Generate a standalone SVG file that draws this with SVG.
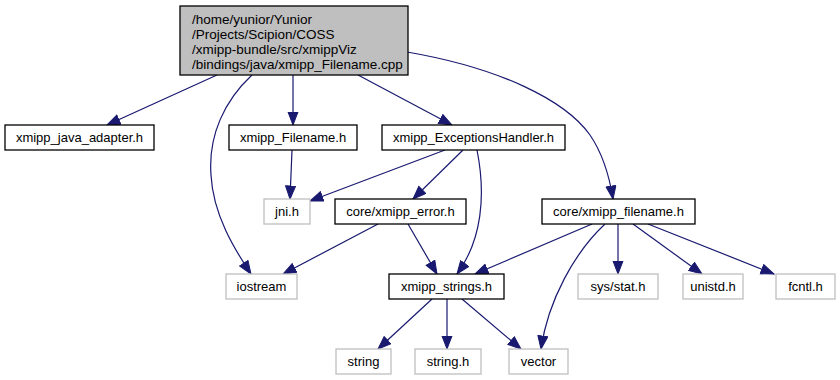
<svg xmlns="http://www.w3.org/2000/svg" width="840" height="380" viewBox="0 0 840 380">
  <style>
    .node rect { fill: #ffffff; stroke: #000000; stroke-width: 1.3; }
    .node.sys rect { stroke: #bfbfbf; }
    .node.root rect { fill: #bfbfbf; }
    .node text { font-family: "Liberation Sans", Arial, Helvetica, sans-serif; font-size: 13px; fill: #000000; }
    .node.root text { font-size: 13.5px; }
    .node text.c { text-anchor: middle; }
    .edges path { fill: none; stroke: #191970; stroke-width: 1.2; marker-end: url(#arrow); }
  </style>
  <defs>
    <marker id="arrow" markerUnits="userSpaceOnUse" markerWidth="15" markerHeight="12" refX="13.5" refY="5.5" orient="auto">
      <path d="M0.5,0.5 L13.5,5.5 L0.5,10.5 z" fill="#191970" stroke="#191970" stroke-width="1"/>
    </marker>
  </defs>

  <!-- include edges -->
  <g class="edges">
    <path d="M217,75 L107,125"/>
    <path d="M252,75 C225,100 208,135 211,175 C213,215 235,250 251,274"/>
    <path d="M293,75 L293,125"/>
    <path d="M358,75 L452,125"/>
    <path d="M407,52 C500,68 565,100 590,135 C605,157 610,180 613,199"/>
    <path d="M292,150 L290,199"/>
    <path d="M445,150 L310,201"/>
    <path d="M463,150 L413,199"/>
    <path d="M477,150 C486,195 482,240 457,274"/>
    <path d="M378,224 L283,274"/>
    <path d="M408,224 L437,274"/>
    <path d="M592,224 L475,274"/>
    <path d="M605,224 C575,252 548,300 541,349"/>
    <path d="M618,224 L618,274"/>
    <path d="M633,224 L702,274"/>
    <path d="M648,224 L774,274"/>
    <path d="M432,299 L378,349"/>
    <path d="M447,299 L447,349"/>
    <path d="M462,299 L521,349"/>
  </g>

  <!-- source file -->
  <g id="node_root" class="node root">
    <rect x="180" y="6" width="228" height="69"/>
    <text x="192" y="24">/home/yunior/Yunior</text>
    <text x="192" y="39">/Projects/Scipion/COSS</text>
    <text x="192" y="54">/xmipp-bundle/src/xmippViz</text>
    <text x="192" y="69">/bindings/java/xmipp_Filename.cpp</text>
  </g>

  <!-- project headers -->
  <g id="node_java_adapter" class="node">
    <rect x="5" y="125" width="149" height="25"/>
    <text class="c" x="79.5" y="141.5">xmipp_java_adapter.h</text>
  </g>
  <g id="node_Filename_h" class="node">
    <rect x="229" y="125" width="128" height="25"/>
    <text class="c" x="293" y="141.5">xmipp_Filename.h</text>
  </g>
  <g id="node_ExceptionsHandler" class="node">
    <rect x="382" y="125" width="183" height="25"/>
    <text class="c" x="473.5" y="141.5">xmipp_ExceptionsHandler.h</text>
  </g>
  <g id="node_xmipp_error" class="node">
    <rect x="335" y="199" width="131" height="25"/>
    <text class="c" x="400.5" y="215.5">core/xmipp_error.h</text>
  </g>
  <g id="node_xmipp_filename" class="node">
    <rect x="542" y="199" width="153" height="25"/>
    <text class="c" x="618.5" y="215.5">core/xmipp_filename.h</text>
  </g>
  <g id="node_xmipp_strings" class="node">
    <rect x="389" y="274" width="115" height="25"/>
    <text class="c" x="446.5" y="290.5">xmipp_strings.h</text>
  </g>

  <!-- system headers -->
  <g id="node_jni" class="node sys">
    <rect x="264" y="199" width="46" height="25"/>
    <text class="c" x="287" y="215.5">jni.h</text>
  </g>
  <g id="node_iostream" class="node sys">
    <rect x="226" y="274" width="71" height="25"/>
    <text class="c" x="261.5" y="290.5">iostream</text>
  </g>
  <g id="node_sys_stat" class="node sys">
    <rect x="578" y="274" width="80" height="25"/>
    <text class="c" x="618" y="290.5">sys/stat.h</text>
  </g>
  <g id="node_unistd" class="node sys">
    <rect x="683" y="274" width="60" height="25"/>
    <text class="c" x="713" y="290.5">unistd.h</text>
  </g>
  <g id="node_fcntl" class="node sys">
    <rect x="776" y="274" width="59" height="25"/>
    <text class="c" x="805.5" y="290.5">fcntl.h</text>
  </g>
  <g id="node_string" class="node sys">
    <rect x="336" y="349" width="55" height="25"/>
    <text class="c" x="363.5" y="365.5">string</text>
  </g>
  <g id="node_string_h" class="node sys">
    <rect x="415" y="349" width="66" height="25"/>
    <text class="c" x="448" y="365.5">string.h</text>
  </g>
  <g id="node_vector" class="node sys">
    <rect x="509" y="349" width="59" height="25"/>
    <text class="c" x="538.5" y="365.5">vector</text>
  </g>
</svg>
